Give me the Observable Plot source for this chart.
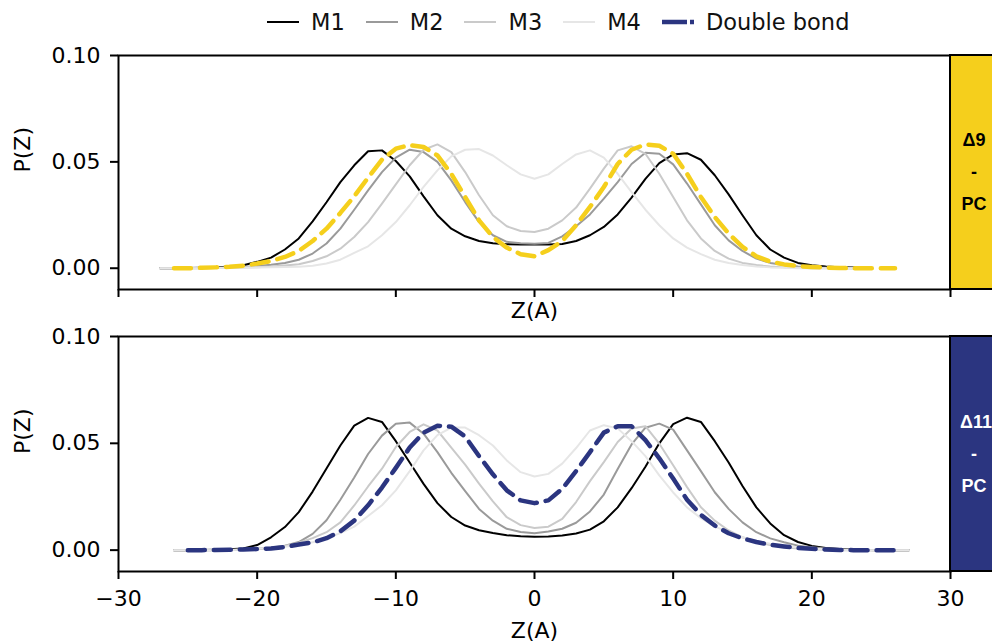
<!DOCTYPE html>
<html><head><meta charset="utf-8">
<script src="https://cdn.jsdelivr.net/npm/d3@7"></script>
<script src="https://cdn.jsdelivr.net/npm/@observablehq/plot@0.6"></script>
<style>
body{margin:0;background:#fff;width:992px;height:644px;overflow:hidden;position:relative;font-family:"DejaVu Sans",sans-serif;}
#legend{position:absolute;left:267px;top:5px;height:34px;display:flex;align-items:center;font-size:22.5px;color:#111;z-index:2;white-space:nowrap;}
.item{display:flex;align-items:center;margin-right:21px;}
.item svg{margin-right:12px;}
#p1{position:absolute;left:0;top:0}
#p2{position:absolute;left:0;top:326px}
</style></head><body>
<div id="p1"></div><div id="p2"></div><div id="legend"></div>
<script>
// ---------- data ----------
const seriesNames = ["M1", "M2", "M3", "M4"];
const dbName = "Double bond";
const xTicks = [-30, -20, -10, 0, 10, 20, 30];
const yTicks = [0, 0.05, 0.10];

// Top panel (Δ9-PC)
const zTopM = [-27,-26,-25,-24,-23,-22,-21,-20,-19,-18,-17,-16,-15,-14,-13,-12,-11,-10,-9,-8,-7,-6,-5,-4,-3,-2,-1,0,1,2,3,4,5,6,7,8,9,10,11,12,13,14,15,16,17,18,19,20,21,22,23,24];
const m1Top = [0,0,0.0001,0.0002,0.0004,0.0008,0.0014,0.003,0.005,0.0088,0.014,0.022,0.031,0.0405,0.0484,0.055,0.0554,0.0504,0.0432,0.0338,0.0249,0.0186,0.015,0.0128,0.0117,0.0113,0.0111,0.0111,0.0111,0.0114,0.0128,0.0155,0.0194,0.0253,0.0332,0.042,0.0494,0.0535,0.0541,0.051,0.0437,0.0347,0.0249,0.0155,0.0088,0.005,0.0025,0.0014,0.0008,0.0005,0.0003,0];
const m2Top = [0,0,0,0.0001,0.0002,0.0004,0.0006,0.001,0.0016,0.0025,0.004,0.0069,0.0116,0.0186,0.0275,0.0366,0.0452,0.052,0.0557,0.0546,0.05,0.0413,0.0311,0.0217,0.0155,0.0124,0.0117,0.0115,0.0119,0.015,0.0197,0.0253,0.0327,0.0405,0.049,0.0543,0.0538,0.0488,0.0398,0.03,0.0202,0.0131,0.0081,0.0045,0.0025,0.0015,0.0008,0.0004,0.0002,0.0001,0,0];
const m3Top = [0,0,0,0,0.0001,0.0002,0.0003,0.0005,0.0008,0.0013,0.0019,0.0034,0.0056,0.0092,0.0147,0.0217,0.0304,0.0394,0.0484,0.0557,0.0582,0.0546,0.0452,0.0343,0.0249,0.0197,0.0175,0.017,0.0186,0.0225,0.0285,0.0374,0.0468,0.0554,0.0573,0.0538,0.0444,0.0335,0.0225,0.014,0.0081,0.0045,0.0025,0.0015,0.0008,0.0004,0.0002,0,0,0,0,0];
const m4Top = [0,0,0,0,0.0001,0.0002,0.0003,0.0004,0.0005,0.0006,0.0007,0.0012,0.0022,0.004,0.0072,0.0103,0.0155,0.0217,0.0296,0.0382,0.046,0.0526,0.0557,0.056,0.053,0.0484,0.0441,0.0421,0.0441,0.049,0.0535,0.0554,0.052,0.0444,0.0358,0.0275,0.0202,0.014,0.0097,0.0066,0.004,0.0025,0.0015,0.0008,0.0004,0.0002,0,0,0,0,0,0];
const zTopDB = [-26,-25,-24,-23,-22,-21,-20,-19,-18,-17,-16,-15,-14,-13,-12,-11,-10,-9,-8,-7,-6,-5,-4,-3,-2,-1,0,1,2,3,4,5,6,7,8,9,10,11,12,13,14,15,16,17,18,19,20,21,22,23,24,25,26];
const dbTop = [0,0,0.0002,0.0004,0.0007,0.0012,0.0022,0.0034,0.0053,0.0081,0.0128,0.0186,0.026,0.0338,0.0426,0.051,0.0562,0.0579,0.057,0.053,0.0444,0.0335,0.0225,0.0147,0.0097,0.0066,0.0056,0.0085,0.0128,0.0202,0.0288,0.0382,0.049,0.0557,0.0582,0.0576,0.0538,0.0444,0.0335,0.0241,0.0163,0.01,0.0056,0.0031,0.0018,0.001,0.0006,0.0003,0.0001,0,0,0,0];

// Bottom panel (Δ11-PC)
const zBotM = [-26,-25,-24,-23,-22,-21,-20,-19,-18,-17,-16,-15,-14,-13,-12,-11,-10,-9,-8,-7,-6,-5,-4,-3,-2,-1,0,1,2,3,4,5,6,7,8,9,10,11,12,13,14,15,16,17,18,19,20,21,22,23,24,25,26,27];
const m1Bot = [0,0,0.0001,0.0002,0.0004,0.0008,0.0024,0.006,0.0108,0.0178,0.0274,0.0382,0.049,0.0583,0.0619,0.06,0.051,0.041,0.031,0.022,0.0155,0.0115,0.0093,0.008,0.007,0.0065,0.0063,0.0064,0.0068,0.0078,0.0096,0.0135,0.02,0.029,0.039,0.05,0.059,0.062,0.06,0.051,0.041,0.03,0.02,0.0125,0.007,0.0038,0.002,0.001,0.0005,0.0002,0.0001,0,0,0];
const m2Bot = [0,0,0,0,0.0001,0.0002,0.0005,0.001,0.0021,0.0038,0.0076,0.014,0.0236,0.034,0.045,0.0536,0.0592,0.0597,0.0545,0.0459,0.0362,0.0276,0.0193,0.0138,0.01,0.0085,0.0079,0.0087,0.01,0.0128,0.0181,0.026,0.038,0.0495,0.0573,0.0592,0.0564,0.0467,0.037,0.0271,0.0193,0.013,0.0084,0.0055,0.0037,0.0021,0.0014,0.0008,0.0004,0.0002,0.0001,0,0,0];
const m3Bot = [0,0,0,0,0.0001,0.0003,0.0006,0.0012,0.002,0.0035,0.0056,0.0084,0.013,0.0209,0.0298,0.0381,0.0483,0.0553,0.0589,0.056,0.048,0.04,0.0311,0.0228,0.0154,0.0117,0.0104,0.011,0.0146,0.0225,0.0323,0.0412,0.0506,0.0569,0.058,0.0498,0.0397,0.0295,0.0201,0.0138,0.0092,0.006,0.0038,0.0024,0.0014,0.0008,0.0004,0.0002,0,0,0,0,0,0];
const m4Bot = [0,0,0,0,0.0001,0.0003,0.0006,0.001,0.0016,0.0025,0.0037,0.0055,0.008,0.011,0.016,0.021,0.028,0.037,0.0467,0.0538,0.0574,0.0574,0.0538,0.049,0.042,0.0365,0.0345,0.0357,0.0405,0.0478,0.056,0.0585,0.057,0.051,0.044,0.035,0.027,0.02,0.015,0.011,0.0085,0.006,0.0042,0.003,0.002,0.0012,0.0007,0.0004,0.0002,0,0,0,0,0];
const zBotDB = [-25,-24,-23,-22,-21,-20,-19,-18,-17,-16,-15,-14,-13,-12,-11,-10,-9,-8,-7,-6,-5,-4,-3,-2,-1,0,1,2,3,4,5,6,7,8,9,10,11,12,13,14,15,16,17,18,19,20,21,22,23,24,25,26];
const dbBot = [0,0,0.0001,0.0002,0.0003,0.0005,0.0008,0.0015,0.0026,0.0036,0.0056,0.0088,0.0138,0.021,0.0293,0.0385,0.048,0.055,0.0582,0.0578,0.0532,0.044,0.0355,0.028,0.0233,0.022,0.0233,0.0287,0.037,0.0459,0.055,0.058,0.058,0.0515,0.043,0.0335,0.0236,0.0165,0.0115,0.0079,0.0055,0.0038,0.0025,0.0017,0.001,0.0006,0.0003,0.0001,0,0,0,0];

// ---------- styles ----------
const greys = ["#000000", "#9a9a9a", "#cacaca", "#e6e6e6"];
const yellow = "#f5cf1c";
const navy = "#2b3580";
const dash = "17,9";
const FONT = "DejaVu Sans";
const fmtX = d => d < 0 ? "\u2212" + Math.abs(d) : String(d);

function panel(opts) {
  const marks = [Plot.frame({stroke: "black", strokeWidth: 2})];
  opts.m.forEach((vals, i) => {
    marks.push(Plot.line(opts.mz.map((z, j) => ({z, p: vals[j]})), {x: "z", y: "p", stroke: greys[i], strokeWidth: 2}));
  });
  marks.push(Plot.line(opts.dz.map((z, j) => ({z, p: opts.d[j]})), {x: "z", y: "p", stroke: opts.dbColor, strokeWidth: 4.5, strokeDasharray: dash}));
  marks.push(Plot.axisX({ticks: xTicks, tickSize: 8, tickPadding: 11, strokeWidth: 2, fontSize: 22, label: null,
    tickFormat: opts.tickLabels ? fmtX : () => ""}));
  marks.push(Plot.axisY({ticks: yTicks, tickSize: 8, tickPadding: 10, strokeWidth: 2, fontSize: 22, label: null,
    tickFormat: d3.format(".2f")}));
  marks.push(Plot.text(["P(Z)"], {text: d => d, frameAnchor: "left", dx: -96, rotate: -90, fontSize: 22, fill: "black"}));
  marks.push(Plot.text(["Z(A)"], {text: d => d, frameAnchor: "bottom", dy: opts.xLabelDy, lineAnchor: "middle", fontSize: 22, fill: "black"}));
  const p = Plot.plot({
    width: 992, height: opts.height,
    marginLeft: 118, marginRight: 42, marginTop: opts.mt, marginBottom: opts.mb,
    style: {fontFamily: FONT, fontSize: "22px", color: "black", background: "white", overflow: "visible"},
    x: {domain: [-30, 30]},
    y: {domain: [-0.01, 0.10]},
    marks
  });
  // right-hand colored strip outside the frame
  const xs = p.scale("x"), ys = p.scale("y");
  const x0 = xs.apply(30), yT = ys.apply(0.10), yB = ys.apply(-0.01);
  const svg = d3.select(p);
  svg.append("rect").attr("x", x0).attr("y", yT).attr("width", 80).attr("height", yB - yT)
    .attr("fill", opts.stripColor).attr("stroke", "black").attr("stroke-width", 2);
  const cy = (yT + yB) / 2;
  opts.stripText.forEach((t, i) => {
    svg.append("text").attr("x", x0 + 24 + (t.dx || 0)).attr("y", cy + (i - 1) * 32)
      .attr("text-anchor", "middle").attr("dominant-baseline", "central")
      .attr("font-family", "Liberation Sans, Arial, sans-serif").attr("font-weight", "bold")
      .attr("font-size", 18).attr("fill", opts.stripTextColor).text(t.s);
  });
  return p;
}

document.getElementById("p1").appendChild(panel({
  mz: zTopM, m: [m1Top, m2Top, m3Top, m4Top], dz: zTopDB, d: dbTop, dbColor: yellow,
  height: 326, mt: 55, mb: 37, tickLabels: false, xLabelDy: 21,
  stripColor: yellow, stripTextColor: "black", stripText: [{s: "\u03949"}, {s: "-"}, {s: "PC"}]
}));
document.getElementById("p2").appendChild(panel({
  mz: zBotM, m: [m1Bot, m2Bot, m3Bot, m4Bot], dz: zBotDB, d: dbBot, dbColor: navy,
  height: 318, mt: 10, mb: 73, tickLabels: true, xLabelDy: 59,
  stripColor: navy, stripTextColor: "white", stripText: [{s: "\u039411", dx: 2}, {s: "-"}, {s: "PC"}]
}));

// ---------- legend ----------
const legend = d3.select("#legend");
seriesNames.concat([dbName]).forEach((name, i) => {
  const it = legend.append("div").attr("class", "item");
  const s = it.append("svg").attr("width", 32).attr("height", 10);
  const isDb = i === 4;
  s.append("line").attr("x1", 0).attr("x2", 32).attr("y1", 5).attr("y2", 5)
    .attr("stroke", isDb ? navy : greys[i]).attr("stroke-width", isDb ? 4.5 : 2)
    .attr("stroke-dasharray", isDb ? "25,3" : null);
  it.append("span").text(name);
});
</script>
</body></html>
